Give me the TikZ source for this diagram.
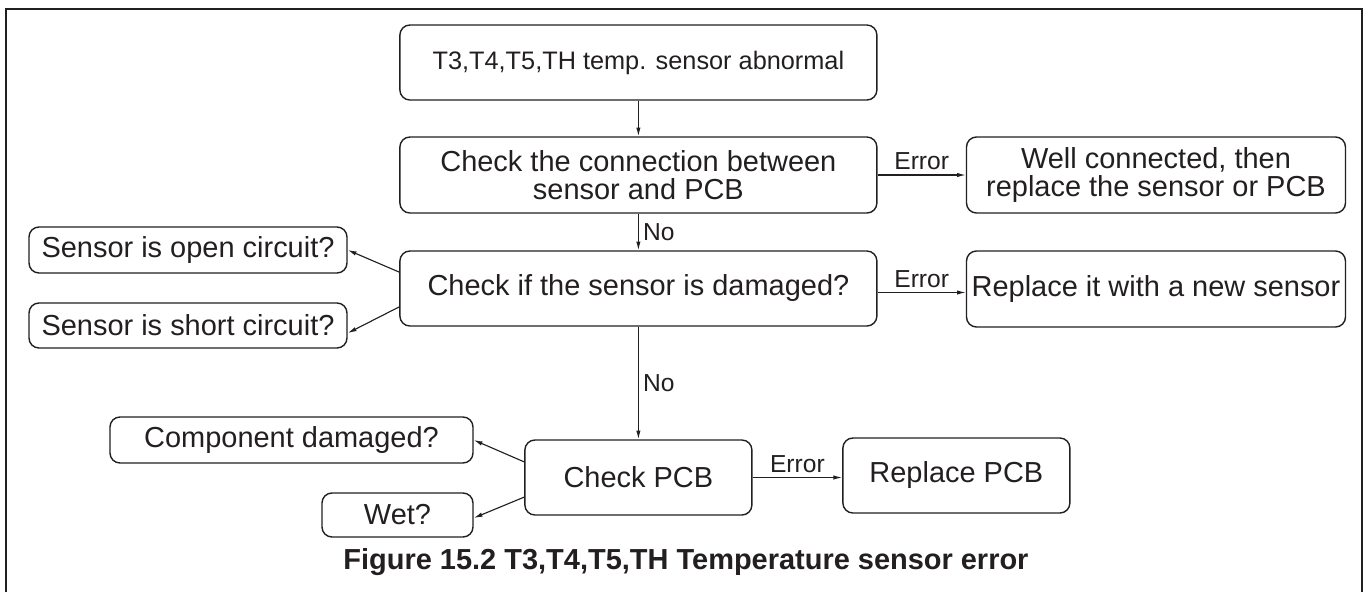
\documentclass[tikz,border=0pt]{standalone}
\usepackage{fontspec}
\setmainfont{Liberation Sans}
\usetikzlibrary{arrows.meta}
\definecolor{ink}{RGB}{35,31,32}
\begin{document}
\begin{tikzpicture}[
	box/.style={draw=ink,text=ink,line width=1pt,rounded corners=2.5mm,align=center,inner sep=0pt,font=\fontsize{20.6}{19.7}\selectfont},
	arr/.style={draw=ink,line width=0.8pt,-{Latex[length=2.2mm,width=1.1mm]}},
	lbl/.style={text=ink,font=\fontsize{17.5}{19}\selectfont,inner sep=3pt}]
	\useasboundingbox (0,0) rectangle (34.225,-14.8);
	\draw[ink,line width=1.5pt] (0.15,-14.8) |- (34.05,-0.225) -- (34.05,-14.8);
	% main column
	\node[box,minimum width=11.925cm,minimum height=1.875cm,font=\fontsize{18}{19.7}\selectfont] (ab) at (15.96,-1.5625) {T3,T4,T5,TH temp. sensor abnormal};
	\node[box,minimum width=11.925cm,minimum height=1.9cm] (cn) at (15.96,-4.375) {Check the connection between\\sensor and PCB};
	\node[box,minimum width=11.925cm,minimum height=1.875cm] (dm) at (15.96,-7.2125) {Check if the sensor is damaged?};
	\node[box,minimum width=5.675cm,minimum height=1.875cm] (pc) at (15.96,-11.9375) {Check PCB};
	% right column
	\node[box,minimum width=9.475cm,minimum height=1.9cm] (wc) at (28.9,-4.375) {Well connected, then\\replace the sensor or PCB};
	\node[box,minimum width=9.475cm,minimum height=1.9cm] (rn) at (28.9,-7.225) {Replace it with a new sensor};
	\node[box,minimum width=5.675cm,minimum height=1.875cm] (rp) at (23.91,-11.8875) {Replace PCB};
	% left side
	\node[box,minimum width=7.95cm,minimum height=1.15cm] (op) at (4.7,-6.25) {Sensor is open circuit?};
	\node[box,minimum width=7.95cm,minimum height=1.125cm] (sh) at (4.7,-8.1375) {Sensor is short circuit?};
	\node[box,minimum width=9.075cm,minimum height=1.15cm] (cd) at (7.2875,-11.0) {Component damaged?};
	\node[box,minimum width=3.775cm,minimum height=1.1cm] (wt) at (9.9375,-12.875) {Wet?};
	\node[text=ink,font=\fontsize{20.6}{24}\selectfont\bfseries] (cap) at (17.15,-14.05) {Figure 15.2 T3,T4,T5,TH Temperature sensor error};
	% connectors
	\draw[arr] (ab) -- (cn);
	\draw[arr] (cn) -- node[lbl,right] {No} (dm);
	\draw[arr] (dm) -- node[lbl,right] {No} (pc);
	\draw[arr] (cn.east) -- node[lbl,above] {Error} (wc.west);
	\draw[arr] ([yshift=-1mm]dm.east) -- node[lbl,above] {Error} ([yshift=-1mm]dm.east -| rn.west);
	\draw[arr] (pc.east) -- node[lbl,above] {Error} (pc.east -| rp.west);
	\draw[arr] ([yshift=4.1mm]dm.west) -- (op.east);
	\draw[arr] ([yshift=-4.6mm]dm.west) -- ([yshift=-1.9mm]sh.east);
	\draw[arr] ([yshift=3.9mm]pc.west) -- (cd.east);
	\draw[arr] ([yshift=-4.9mm]pc.west) -- ([yshift=-0.75mm]wt.east);
\end{tikzpicture}
\end{document}
